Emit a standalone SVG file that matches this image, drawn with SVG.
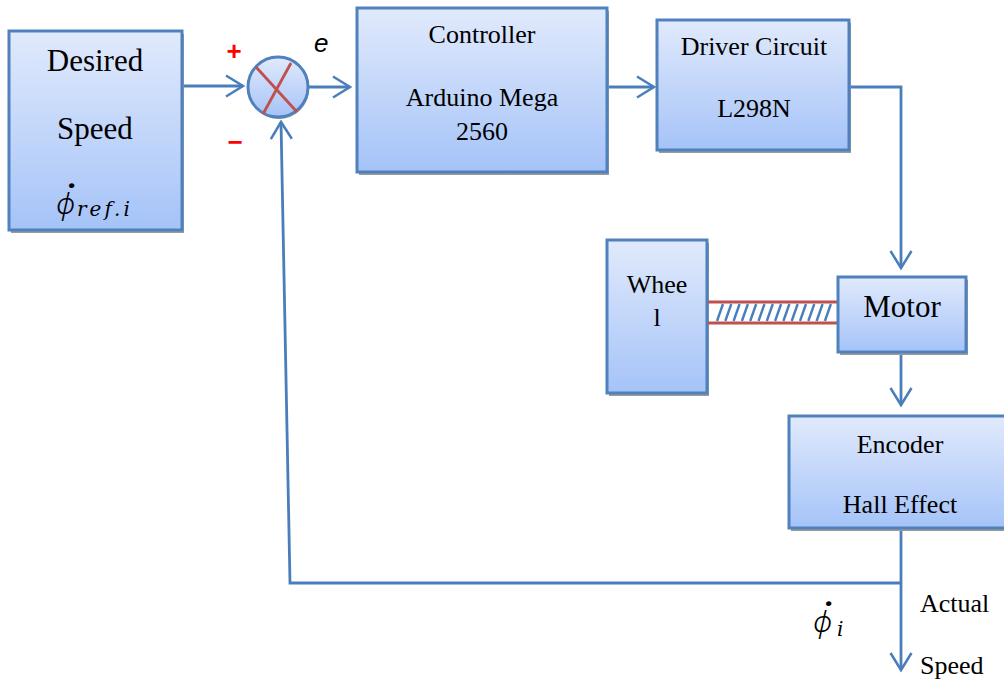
<svg xmlns="http://www.w3.org/2000/svg" width="1004" height="679" viewBox="0 0 1004 679">
<defs>
<linearGradient id="bg" x1="0" y1="0" x2="0" y2="1">
<stop offset="0" stop-color="#e1eafc"/>
<stop offset="1" stop-color="#a5c3f8"/>
</linearGradient>
<marker id="arr" markerUnits="userSpaceOnUse" orient="auto" overflow="visible" markerWidth="1" markerHeight="1" refX="0" refY="0">
<path d="M-17,-10.5 L0,0 L-17,10.5" fill="none" stroke="#4a7ebb" stroke-width="2.5" stroke-linejoin="miter"/>
</marker>
<style>
.box{fill:url(#bg);stroke:#4f81bd;stroke-width:3}
.sh{fill:#9b9b9b}
.ln{fill:none;stroke:#4a7ebb;stroke-width:2.8}
.t{font-family:"Liberation Serif","Times New Roman",serif;font-size:26px;fill:#000;text-anchor:middle}
.big{font-size:31px}
.red{font-family:"Liberation Sans",Arial,sans-serif;font-weight:bold;font-size:26px;fill:#ff0000;text-anchor:middle}
.math{font-family:Roboto,"Noto Sans","DejaVu Sans",sans-serif;font-weight:300;font-style:italic;fill:#000}
.dot{font-weight:900;font-size:34px}
.sub{font-family:"DejaVu Serif",serif;font-weight:normal;font-style:italic;fill:#000}
</style>
</defs>
<rect width="1004" height="679" fill="#fff"/>

<g id="connectors">
<line class="ln" x1="182" y1="86" x2="243" y2="86" marker-end="url(#arr)"/>
<line class="ln" x1="308" y1="87" x2="350" y2="87" marker-end="url(#arr)"/>
<line class="ln" x1="607" y1="87" x2="654" y2="87" marker-end="url(#arr)"/>
<polyline class="ln" points="849,87 901,87 901,268" marker-end="url(#arr)"/>
<line class="ln" x1="901" y1="352" x2="901" y2="405" marker-end="url(#arr)"/>
<line class="ln" x1="901" y1="528" x2="901" y2="670" marker-end="url(#arr)"/>
<polyline class="ln" points="901,583 290,583 281,122" marker-end="url(#arr)"/>
</g>

<g id="desired">
<rect class="sh" x="11" y="34" width="173" height="199"/>
<rect class="box" x="9" y="31" width="173" height="199"/>
<text class="t big" x="95" y="71">Desired</text>
<text class="t big" x="95" y="139">Speed</text>
<text class="math" x="56" y="214" font-size="30">ϕ<tspan class="dot" x="65" y="208">˙</tspan><tspan class="sub" x="77" y="216" font-size="20" letter-spacing="3">ref.i</tspan></text>
</g>

<g id="sum">
<circle cx="279" cy="89" r="30" fill="#9b9b9b"/>
<circle cx="278" cy="87" r="30" fill="url(#bg)" stroke="#4f81bd" stroke-width="3"/>
<line x1="256" y1="67" x2="297" y2="112" stroke="#c0504d" stroke-width="2.8"/>
<line x1="291" y1="63" x2="263" y2="114" stroke="#c0504d" stroke-width="2.8"/>
<text class="red" x="234" y="60">+</text>
<text class="red" x="235" y="151">−</text>
<text x="314" y="52" font-family="'Liberation Sans',Arial,sans-serif" font-style="italic" font-size="26">e</text>
</g>

<g id="controller">
<rect class="sh" x="359" y="11" width="250" height="164"/>
<rect class="box" x="357" y="8" width="250" height="164"/>
<text class="t" x="482" y="43">Controller</text>
<text class="t" x="482" y="106">Arduino Mega</text>
<text class="t" x="482" y="140">2560</text>
</g>

<g id="driver">
<rect class="sh" x="659" y="23" width="192" height="130"/>
<rect class="box" x="657" y="20" width="192" height="130"/>
<text class="t" x="754" y="55">Driver Circuit</text>
<text class="t" x="754" y="117">L298N</text>
</g>

<g id="wheel">
<rect class="sh" x="609" y="243" width="100" height="153"/>
<rect class="box" x="607" y="240" width="100" height="153"/>
<text class="t" x="657" y="293" font-size="23">Whee</text>
<text class="t" x="657" y="326" font-size="23">l</text>
</g>

<g id="shaft">
<line x1="708" y1="302" x2="838" y2="302" stroke="#c0504d" stroke-width="3"/>
<line x1="708" y1="323" x2="838" y2="323" stroke="#c0504d" stroke-width="3"/>
<g stroke="#4a7ebb" stroke-width="2.4">
<line x1="717" y1="321" x2="723" y2="304"/>
<line x1="725.3" y1="321" x2="731.3" y2="304"/>
<line x1="733.6" y1="321" x2="739.6" y2="304"/>
<line x1="741.9" y1="321" x2="747.9" y2="304"/>
<line x1="750.2" y1="321" x2="756.2" y2="304"/>
<line x1="758.5" y1="321" x2="764.5" y2="304"/>
<line x1="766.8" y1="321" x2="772.8" y2="304"/>
<line x1="775.1" y1="321" x2="781.1" y2="304"/>
<line x1="783.4" y1="321" x2="789.4" y2="304"/>
<line x1="791.7" y1="321" x2="797.7" y2="304"/>
<line x1="800" y1="321" x2="806" y2="304"/>
<line x1="808.3" y1="321" x2="814.3" y2="304"/>
<line x1="816.6" y1="321" x2="822.6" y2="304"/>
<line x1="824.9" y1="321" x2="830.9" y2="304"/>
</g>
</g>

<g id="motor">
<rect class="sh" x="840" y="280" width="128" height="75"/>
<rect class="box" x="838" y="277" width="128" height="75"/>
<text class="t big" x="902" y="317">Motor</text>
</g>

<g id="encoder">
<rect class="sh" x="791" y="419" width="230" height="112"/>
<rect class="box" x="789" y="416" width="230" height="112"/>
<text class="t" x="900" y="453">Encoder</text>
<text class="t" x="900" y="513">Hall Effect</text>
</g>

<g id="labels">
<text class="t" x="920" y="612" style="text-anchor:start">Actual</text>
<text class="t" x="920" y="674" style="text-anchor:start">Speed</text>
<text class="math" x="813" y="632" font-size="30">ϕ<tspan class="dot" x="822" y="626">˙</tspan><tspan class="sub" x="837" y="636" font-size="20">i</tspan></text>
</g>
</svg>
